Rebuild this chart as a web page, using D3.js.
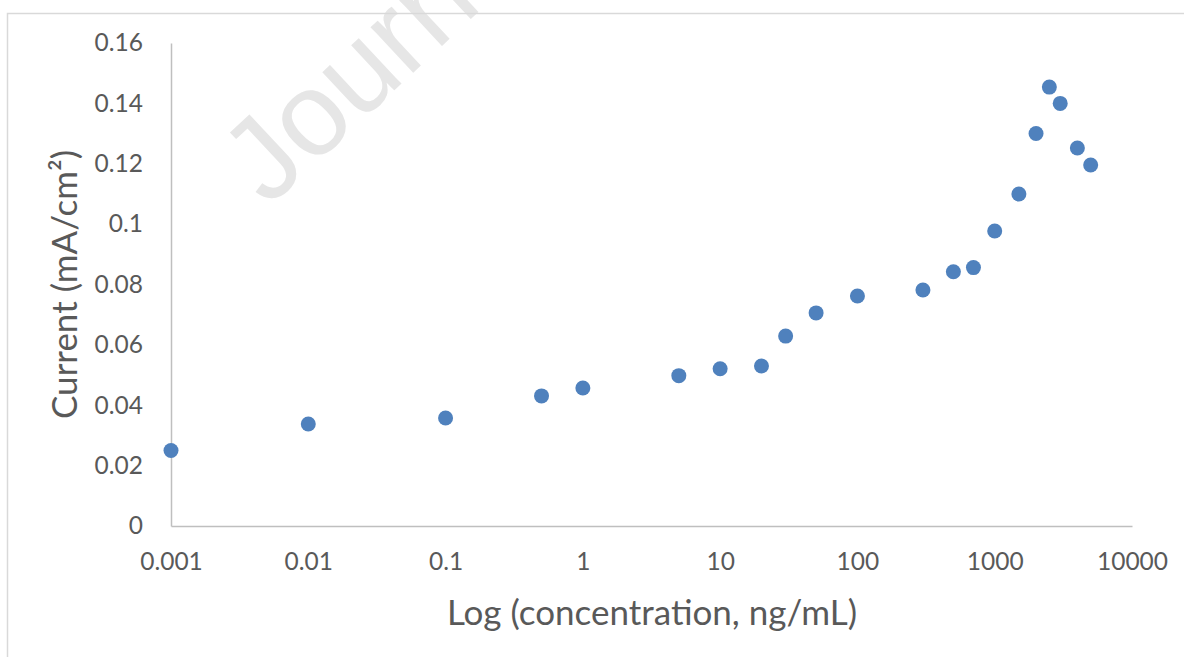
<!DOCTYPE html>
<html><head><meta charset="utf-8">
<script src="https://cdn.jsdelivr.net/npm/d3@7"></script>
<style>body{margin:0;background:#fff;}svg{display:block;font-family:Lato,"Open Sans",sans-serif;}</style>
</head><body>
<svg id="chart" width="1184" height="657"></svg>
<script>
const concentration = [0.001, 0.01, 0.1, 0.5, 1, 5, 10, 20, 30, 50, 100, 300, 500, 700, 1000, 1500, 2000, 2500, 3000, 4000, 5000];
const current = [0.025, 0.0338, 0.0358, 0.0431, 0.0457, 0.0498, 0.0521, 0.053, 0.0629, 0.0706, 0.0762, 0.0782, 0.0842, 0.0856, 0.0977, 0.110, 0.130, 0.1454, 0.140, 0.1252, 0.1196];
const xTicks = [0.001, 0.01, 0.1, 1, 10, 100, 1000, 10000];
const yTicks = [0, 0.02, 0.04, 0.06, 0.08, 0.1, 0.12, 0.14, 0.16];
const xTitle = "Log (concentration, ng/mL)";
const yTitle = "Current (mA/cm²)";

const svg = d3.select("#chart");
const pLeft = 171, pRight = 1132, pTop = 43, pBottom = 526;
const x = d3.scaleLog().domain([0.001, 10000]).range([pLeft, pRight]);
const y = d3.scaleLinear().domain([0, 0.16]).range([pBottom, pTop]);

// watermark
svg.append("text").attr("transform", "translate(268,208) rotate(-43)")
  .attr("font-size", 118).attr("fill", "#e6e6e6").attr("font-family", "'Liberation Sans',Arial,sans-serif")
  .text("Journal Pre-proof");

// outer chart border
svg.append("rect").attr("x", 7.5).attr("y", 13.5).attr("width", 1200).attr("height", 700)
  .attr("fill", "none").attr("stroke", "#d9d9d9").attr("stroke-width", 1.5);

// axes
const xAxis = d3.axisBottom(x).tickValues(xTicks).tickSize(0).tickPadding(27)
  .tickFormat(d => d3.format("~f")(d));
const gx = svg.append("g").attr("transform", `translate(0,${pBottom})`).call(xAxis);
gx.select(".domain").attr("stroke", "#bfbfbf").attr("stroke-width", 1.5);
gx.selectAll("text").attr("font-size", 24.5).attr("fill", "#595959").attr("font-family", "Lato,sans-serif");

const yAxis = d3.axisLeft(y).tickValues(yTicks).tickSize(0).tickPadding(28)
  .tickFormat(d => d3.format("~g")(d));
const gy = svg.append("g").attr("transform", `translate(${pLeft},0)`).call(yAxis);
gy.select(".domain").attr("stroke", "#bfbfbf").attr("stroke-width", 1.5);
gy.selectAll("text").attr("font-size", 24.5).attr("fill", "#595959").attr("font-family", "Lato,sans-serif");

// points
svg.append("g").selectAll("circle").data(concentration).join("circle")
  .attr("cx", d => x(d)).attr("cy", (d, i) => y(current[i])).attr("r", 7.5)
  .attr("fill", "#4f81bd");

// titles
svg.append("text").attr("x", (pLeft + pRight) / 2 + 0.5).attr("y", 625).attr("text-anchor", "middle")
  .attr("font-size", 35).attr("fill", "#595959").text(xTitle);
svg.append("text").attr("transform", `translate(77,${(pTop + pBottom) / 2}) rotate(-90)`)
  .attr("text-anchor", "middle").attr("font-size", 35).attr("fill", "#595959").text(yTitle);
</script>
</body></html>
